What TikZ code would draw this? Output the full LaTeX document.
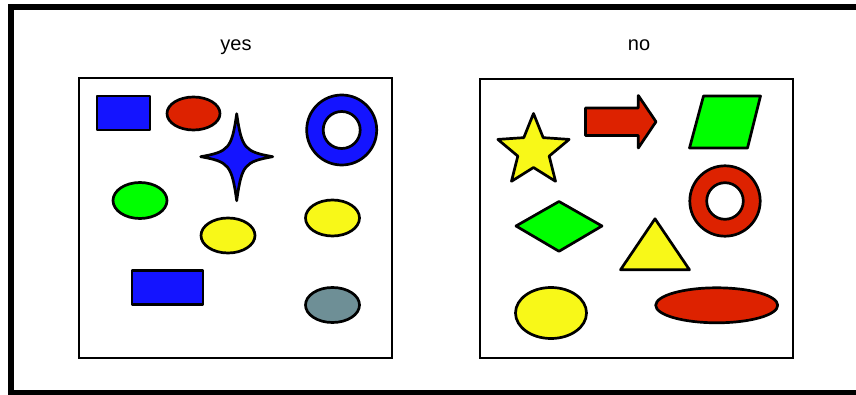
\documentclass[tikz,border=0pt]{standalone}
\usepackage{fontspec}
\setsansfont{Liberation Sans}
\usepackage{tikz}
\usepackage{xcolor}
\usetikzlibrary{positioning}
\definecolor{cShapeBlue}  {HTML}{1414FF}
\definecolor{cShapeRed}   {HTML}{DD2200}
\definecolor{cShapeGreen} {HTML}{00FF00}
\definecolor{cShapeYellow}{HTML}{F8F818}
\definecolor{cShapeGray}  {HTML}{6E8F96}
\tikzset{
  shapeEdge/.style={draw=black, line width=2.7pt, line join=round},
  panelBox/.style={draw=black, line width=2.4pt},
  panelTitle/.style={font=\sffamily\fontsize{20}{24}\selectfont, anchor=base, inner sep=0pt},
}

\begin{document}
\begin{tikzpicture}[x=1pt, y=-1pt]
        \useasboundingbox (0,0) rectangle (856,395);
        \clip (0,0) rectangle (856,395);
        \draw[line width=6pt] (880,7.5) -- (11,7.5) -- (11,392.5) -- (880,392.5);

        \node[panelTitle] (yes) at (236,50.7) {yes};
        \node[panelTitle] (no)  at (639,50.7) {no};
        \draw[panelBox] (79,78) rectangle (392,358);
        \draw[panelBox] (480,79) rectangle (793,358);

        \draw[shapeEdge, fill=cShapeBlue] (97,96) rectangle (150,130);
        \draw[shapeEdge, fill=cShapeRed] (193.5,113.5) ellipse [x radius=26.5pt, y radius=16.5pt];
        \draw[shapeEdge, fill=cShapeBlue, shift={(236.7,156.7)}]
             (0,-43) .. controls (5,-8) and (8,-5) .. (36,0)
             .. controls (8,5) and (5,8) .. (0,44)
             .. controls (-5,8) and (-8,5) .. (-36,0)
             .. controls (-8,-5) and (-5,-8) .. cycle;
        \draw[shapeEdge, fill=cShapeBlue, even odd rule]
             (341.7,130) circle [radius=35pt] (341.7,130) circle [radius=18.5pt];
        \draw[shapeEdge, fill=cShapeGreen] (140,200.5) ellipse [x radius=27pt, y radius=18pt];
        \draw[shapeEdge, fill=cShapeYellow] (228,235.5) ellipse [x radius=27pt, y radius=17.5pt];
        \draw[shapeEdge, fill=cShapeYellow] (332.5,218) ellipse [x radius=27pt, y radius=18pt];
        \draw[shapeEdge, fill=cShapeBlue] (132,270.5) rectangle (203,304.5);
        \draw[shapeEdge, fill=cShapeGray] (332.5,305) ellipse [x radius=27pt, y radius=17.5pt];

        \draw[shapeEdge, fill=cShapeYellow, shift={(533.5,151)}]
             (-90:37.5) \foreach \k in {0,...,4} { -- (-54+72*\k:16.5) -- (-18+72*\k:37.5) } -- cycle;
        \draw[shapeEdge, fill=cShapeRed]
             (585.5,108) -- (638.3,108) -- (638.3,95.5) -- (656,121.7)
             -- (638.3,148) -- (638.3,135.5) -- (585.5,135.5) -- cycle;
        \draw[shapeEdge, fill=cShapeGreen] (703.5,96) -- (760.5,96) -- (747.5,148) -- (689.5,148) -- cycle;
        \draw[shapeEdge, fill=cShapeRed, even odd rule]
             (725,201) circle [radius=35.2pt] (725,201) circle [radius=18.3pt];
        \draw[shapeEdge, fill=cShapeGreen] (516,226) -- (559,201.5) -- (602,226) -- (559,251.3) -- cycle;
        \draw[shapeEdge, fill=cShapeYellow] (655,218.8) -- (689.5,269.8) -- (620.5,269.8) -- cycle;
        \draw[shapeEdge, fill=cShapeYellow] (551,313) ellipse [x radius=35.5pt, y radius=25.5pt];
        \draw[shapeEdge, fill=cShapeRed] (716.7,305.3) ellipse [x radius=61pt, y radius=17.5pt];
      \end{tikzpicture}
\end{document}
